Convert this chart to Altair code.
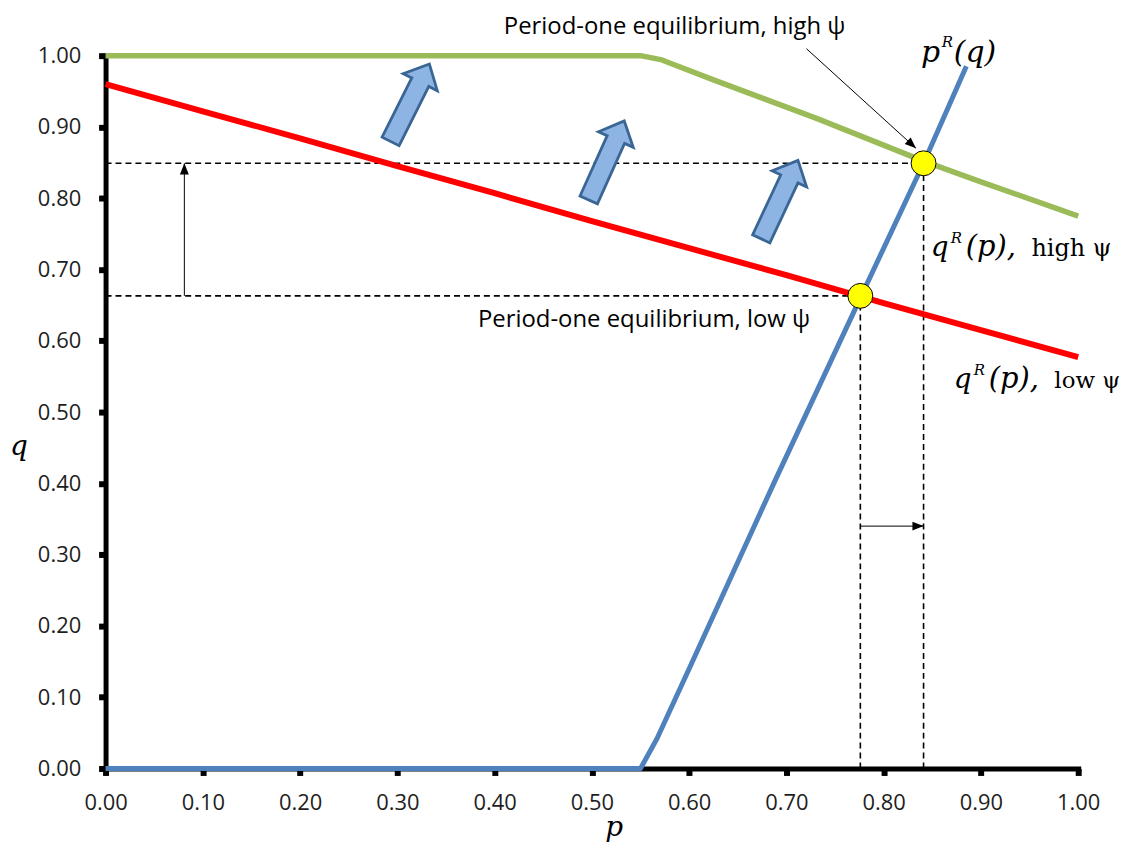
import altair as alt
import pandas as pd

# ---------------- data ----------------
ticks = [0.0, 0.1, 0.2, 0.3, 0.4, 0.5, 0.6, 0.7, 0.8, 0.9, 1.0]

green_p = [0.00, 0.10, 0.20, 0.30, 0.40, 0.50, 0.55, 0.572, 0.625, 0.731, 0.841, 0.90, 1.00]
green_q = [1.00, 1.00, 1.00, 1.00, 1.00, 1.00, 1.00, 0.994, 0.966, 0.912, 0.852, 0.823, 0.775]

red_p = [0.0, 0.1, 0.2, 0.3, 0.4, 0.5, 0.6, 0.7, 0.8, 0.9, 1.0]
red_q = [0.960, 0.922, 0.884, 0.845, 0.807, 0.768, 0.730, 0.692, 0.653, 0.615, 0.577]

blue_p = [0.00, 0.10, 0.20, 0.30, 0.40, 0.50, 0.55, 0.567, 0.60, 0.687, 0.777, 0.841, 0.885]
blue_q = [0.00, 0.00, 0.00, 0.00, 0.00, 0.00, 0.00, 0.042, 0.14, 0.40, 0.663, 0.849, 0.985]

eq_p = [0.841, 0.776]
eq_q = [0.849, 0.663]

# block arrows (centre and tilt)
barrow_p = [0.313, 0.515, 0.693]
barrow_q = [0.934, 0.853, 0.798]
barrow_angle = [26.6, 24.2, 25.1]

# dashed guide lines
dash_p = [0.0, 0.0, 0.776, 0.841]
dash_p2 = [0.841, 0.776, 0.776, 0.841]
dash_q = [0.849, 0.663, 0.0, 0.0]
dash_q2 = [0.849, 0.663, 0.663, 0.849]

# thin arrows: (start) -> (end, with head)
thin_p = [0.081, 0.776, 0.7206]
thin_q = [0.663, 0.340, 1.0098]
thin_p2 = [0.081, 0.841, 0.8332]
thin_q2 = [0.849, 0.340, 0.8701]
head_angle = [0, 90, 132]

# text labels
eq_label_text = ["Period-one equilibrium, high ψ", "Period-one equilibrium, low ψ"]
eq_label_p = [0.4094, 0.3828]
eq_label_q = [1.0395, 0.6285]

# ---------------- frames ----------------
def line_df(ps, qs):
    return pd.DataFrame({"p": ps, "q": qs, "i": list(range(len(ps)))})

green = line_df(green_p, green_q)
red = line_df(red_p, red_q)
blue = line_df(blue_p, blue_q)
eq = pd.DataFrame({"p": eq_p, "q": eq_q})
barrows = pd.DataFrame({"p": barrow_p, "q": barrow_q, "a": barrow_angle})
dashes = pd.DataFrame({"p": dash_p, "p2": dash_p2, "q": dash_q, "q2": dash_q2})
thin = pd.DataFrame({"p": thin_p, "q": thin_q, "p2": thin_p2, "q2": thin_q2})
heads = pd.DataFrame({"p": thin_p2, "q": thin_q2, "a": head_angle})
eq_labels = pd.DataFrame({"p": eq_label_p, "q": eq_label_q, "t": eq_label_text})

axis_common = dict(
    values=ticks, format=".2f", grid=False, title=None, labelFlush=False,
    domainColor="black", domainWidth=5, domainCap="square",
    tickColor="black", tickWidth=6, tickSize=7,
    labelFont="Open Sans", labelFontSize=22, labelColor="#1e1e1e",
)
X = alt.X("p:Q", scale=alt.Scale(domain=[0, 1], nice=False, zero=False),
          axis=alt.Axis(labelPadding=17, **axis_common))
Y = alt.Y("q:Q", scale=alt.Scale(domain=[0, 1], nice=False, zero=False),
          axis=alt.Axis(labelPadding=18, **axis_common))


def curve(df, color, w):
    return alt.Chart(df).mark_line(color=color, strokeWidth=w, strokeJoin="round").encode(
        x=X, y=Y, order="i:Q")


layers = []
layers.append(alt.Chart(dashes).mark_rule(color="black", strokeWidth=1.6, strokeDash=[6, 4]).encode(
    x=X, y=Y, x2="p2:Q", y2="q2:Q"))
layers.append(curve(green, "#9BBB59", 5.5))
layers.append(curve(red, "#FF0000", 6))
layers.append(curve(blue, "#4F81BD", 5))
layers.append(alt.Chart(thin).mark_rule(color="black", strokeWidth=1).encode(
    x=X, y=Y, x2="p2:Q", y2="q2:Q"))
layers.append(alt.Chart(heads).mark_point(
    shape="M-0.4,1 L0,0 L0.4,1 Z", size=500, filled=True, color="black", opacity=1).encode(
    x=X, y=Y, angle=alt.Angle("a:Q", scale=None)))
arrow_path = "M-0.22,1 L-0.22,-0.53 L-0.44,-0.53 L0,-1 L0.44,-0.53 L0.22,-0.53 L0.22,1 Z"
layers.append(alt.Chart(barrows).mark_point(
    shape=arrow_path, size=7569, filled=True, fill="#8EB4E3", stroke="#3A6695",
    strokeWidth=2.8, opacity=1, strokeJoin="miter").encode(
    x=X, y=Y, angle=alt.Angle("a:Q", scale=None)))
layers.append(alt.Chart(eq).mark_point(
    shape="circle", size=625, filled=True, fill="#FFFF00", stroke="black",
    strokeWidth=1, opacity=1).encode(x=X, y=Y))
layers.append(alt.Chart(eq_labels).mark_text(
    align="left", baseline="middle", font="Open Sans", fontSize=24, color="black").encode(
    x=X, y=Y, text="t:N"))


def piece(p, q, text, size, dx=0, dy=0, italic=True, font="DejaVu Serif"):
    df = pd.DataFrame({"p": [p], "q": [q], "t": [text]})
    return alt.Chart(df).mark_text(
        align="left", baseline="alphabetic", font=font, fontSize=size,
        fontStyle="italic" if italic else "normal", color="black", dx=dx, dy=dy).encode(
        x=X, y=Y, text="t:N")


# p^R(q)
layers += [piece(0.8383, 0.9916, "p", 30),
           piece(0.8383, 0.9916, "R", 15, dx=21, dy=-15),
           piece(0.8383, 0.9916, "(q)", 30, dx=33)]
# q^R(p), high psi
layers += [piece(0.8485, 0.7193, "q", 28),
           piece(0.8485, 0.7193, "R", 15, dx=20, dy=-13),
           piece(0.8485, 0.7193, "(p),", 29, dx=35),
           piece(0.8485, 0.7193, "high ψ", 24, dx=101, italic=False)]
# q^R(p), low psi
layers += [piece(0.8721, 0.5335, "q", 28),
           piece(0.8721, 0.5335, "R", 15, dx=20, dy=-13),
           piece(0.8721, 0.5335, "(p),", 29, dx=35),
           piece(0.8721, 0.5335, "low ψ", 23, dx=101, italic=False)]
# axis titles
layers += [piece(-0.0983, 0.44, "q", 28), piece(0.5138, -0.0950, "p", 28)]

chart = alt.layer(*layers).properties(
    width=977, height=716,
    padding={"left": 98, "top": 46, "right": 47, "bottom": 76},
    autosize=alt.AutoSizeParams(type="none"),
    background="white",
).configure_view(stroke="transparent", strokeWidth=0)

chart.save("out.html", embed_options={"renderer": "svg", "actions": False})
